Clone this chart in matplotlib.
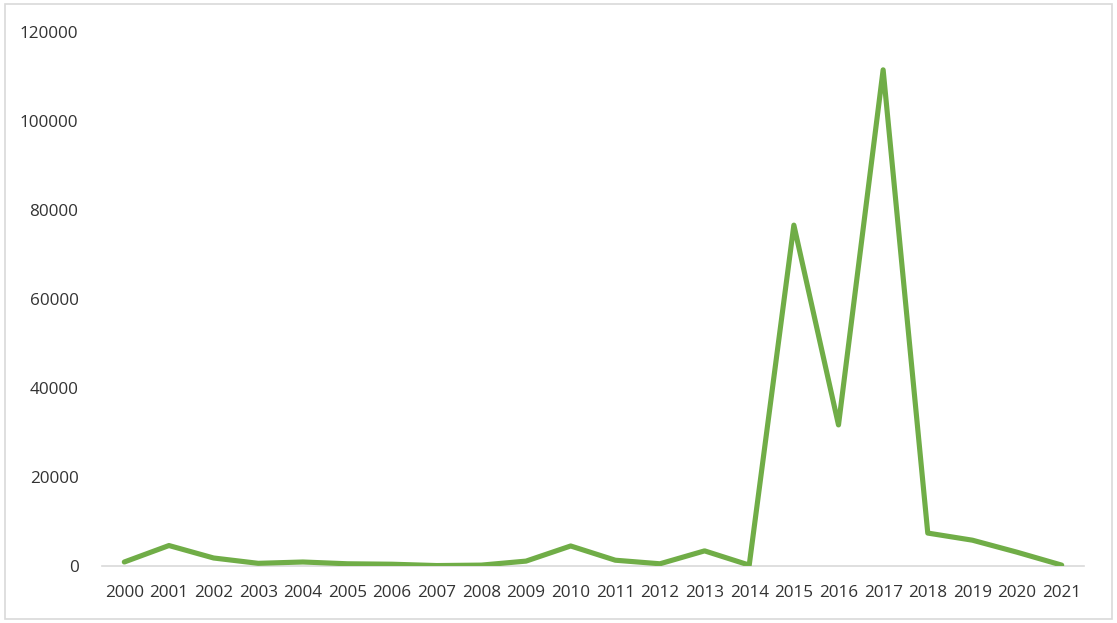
import numpy as np
import matplotlib
matplotlib.use("Agg")
import matplotlib.pyplot as plt
from matplotlib.patches import Rectangle

# data
years = [str(y) for y in range(2000, 2022)]
values = [900, 4600, 1800, 600, 900, 500, 400, 100, 200, 1100, 4500,
          1300, 500, 3400, 200, 76600, 31700, 111500, 7400, 5800, 3100, 200]

plt.rcParams['font.family'] = ['Open Sans', 'DejaVu Sans']
plt.rcParams['font.size'] = 12

W, H = 1117, 623
fig = plt.figure(figsize=(W / 100, H / 100), dpi=100)

# light grey frame around the chart area
fig.patches.append(Rectangle((5 / W, 4 / H), 1107 / W, 615 / H,
                             transform=fig.transFigure, fill=False,
                             edgecolor='#D9D9D9', linewidth=1.2))

ax = fig.add_axes([102 / W, (H - 566) / H, (1084 - 102) / W, (566 - 32) / H])
x = np.arange(len(years))
ax.plot(x, values, color='#70AD47', linewidth=3.7, solid_joinstyle='round',
        solid_capstyle='round', zorder=3)

ax.set_xlim(-0.5, len(years) - 0.5)
ax.set_ylim(0, 120000)
ax.set_yticks(np.arange(0, 120001, 20000))
ax.set_xticks(x)
ax.set_xticklabels(years)

for s in ['top', 'right', 'left']:
    ax.spines[s].set_visible(False)
ax.spines['bottom'].set_color('#D9D9D9')
ax.spines['bottom'].set_linewidth(1.2)

ax.tick_params(axis='both', length=0, colors='#333333', labelsize=12.3)
ax.tick_params(axis='x', pad=14)
ax.tick_params(axis='y', pad=17)

fig.savefig('out.png', dpi=100)
